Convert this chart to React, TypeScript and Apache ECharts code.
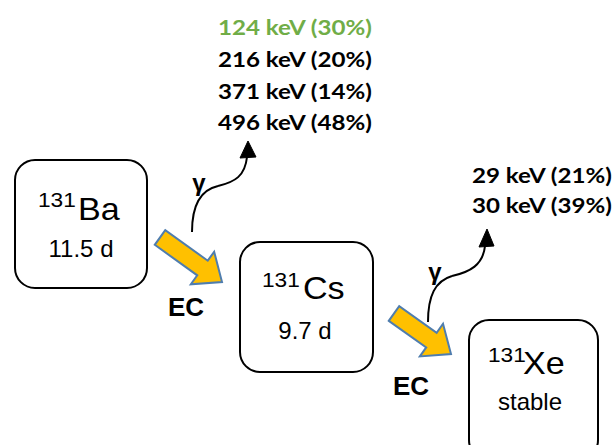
import React, { useEffect, useRef } from "react";
import * as echarts from "echarts";

// ---- Data ----
const massNumbers = ["131", "131", "131"];
const elementSymbols = ["Ba", "Cs", "Xe"];
const halfLives = ["11.5 d", "9.7 d", "stable"];
const decayModes = ["EC", "EC"];
const gammaSymbol = "γ";
const baGammaEnergiesKeV = [124, 216, 371, 496];
const baGammaIntensities = [30, 20, 14, 48];
const csGammaEnergiesKeV = [29, 30];
const csGammaIntensities = [21, 39];
const highlightedBaLine = 0;

// ---- Layout / style (not data) ----
const BOXES = [
  { x: 15, y: 160, w: 132, h: 128, supX: 38, supY: 200, symX: 78, symY: 210, hlX: 81, hlY: 248 },
  { x: 240, y: 242, w: 133, h: 130, supX: 262, supY: 280, symX: 303, symY: 289, hlX: 305, hlY: 330 },
  { x: 469, y: 320, w: 129, h: 140, supX: 488, supY: 355, symX: 523, symY: 364, hlX: 530, hlY: 401 },
];
const DECAY_ARROWS = [
  { tail: [160, 237.5], tip: [222, 282], ec: [186, 307] },
  { tail: [394, 313.5], tip: [451, 354], ec: [411, 386] },
];
const GAMMA_CURVES = [
  {
    segs: [
      [192, 232, 192, 205, 200, 190, 218, 186],
      [218, 186, 235, 182, 245, 176, 247, 157],
    ],
    head: [[248, 141], [240, 158], [256, 157]],
    label: [199, 182],
    textX: 218,
    textY: [27, 59, 91, 122],
  },
  {
    segs: [
      [428, 322, 428, 296, 435, 281, 452, 276],
      [452, 276, 470, 272, 483, 265, 485, 246],
    ],
    head: [[487, 229], [479, 247], [494, 246]],
    label: [435, 271],
    textX: 472,
    textY: [175, 205],
  },
];

const SANS = "'Liberation Sans', Arial, sans-serif";
const LABEL_FONT = "Lato, 'Liberation Sans', sans-serif";
const ARROW_FILL = "#FFC000";
const ARROW_STROKE = "#4F7DAE";
const GREEN = "#70AD47";

function arrowPolygon(tail: number[], tip: number[]) {
  const w = 9, W = 20, L = 24;
  const dx = tip[0] - tail[0], dy = tip[1] - tail[1];
  const len = Math.hypot(dx, dy);
  const ux = dx / len, uy = dy / len;
  const nx = -uy, ny = ux;
  const bx = tip[0] - ux * L, by = tip[1] - uy * L;
  return [
    [tail[0] + nx * w, tail[1] + ny * w],
    [bx + nx * w, by + ny * w],
    [bx + nx * W, by + ny * W],
    [tip[0], tip[1]],
    [bx - nx * W, by - ny * W],
    [bx - nx * w, by - ny * w],
    [tail[0] - nx * w, tail[1] - ny * w],
  ];
}

function txt(text: string, x: number, y: number, opts: any) {
  const align = opts.align || "left";
  return {
    type: "text",
    x,
    y,
    scaleX: opts.scaleX || 1,
    silent: true,
    style: {
      text,
      fill: opts.fill || "#000",
      fontSize: opts.fontSize,
      fontFamily: opts.fontFamily || SANS,
      fontWeight: opts.fontWeight || "normal",
      align,
      textAlign: align,
      verticalAlign: "middle",
      textVerticalAlign: "middle",
    },
  };
}

export default function App() {
  const ref = useRef<HTMLDivElement>(null);
  useEffect(() => {
    if (!ref.current) return;
    const chart = echarts.init(ref.current, null, { renderer: "svg" });
    const elements: any[] = [];

    // Nuclide boxes
    BOXES.forEach((b, i) => {
      elements.push({
        type: "rect",
        shape: { x: b.x, y: b.y, width: b.w, height: b.h, r: 20 },
        style: { fill: "#fff", stroke: "#000", lineWidth: 2 },
      });
      elements.push(txt(massNumbers[i], b.supX, b.supY, { fontSize: 21, scaleX: 1.08 }));
      elements.push(txt(elementSymbols[i], b.symX, b.symY, { fontSize: 31, scaleX: 1.1 }));
      elements.push(txt(halfLives[i], b.hlX, b.hlY, { fontSize: 24, align: "center" }));
    });

    // Decay arrows
    DECAY_ARROWS.forEach((a, i) => {
      elements.push({
        type: "polygon",
        shape: { points: arrowPolygon(a.tail, a.tip) },
        style: { fill: ARROW_FILL, stroke: ARROW_STROKE, lineWidth: 2, lineJoin: "miter" },
      });
      elements.push(txt(decayModes[i], a.ec[0], a.ec[1], { fontSize: 26, fontWeight: "bold", align: "center" }));
    });

    // Gamma emissions
    const gammaLists = [
      baGammaEnergiesKeV.map((e, k) => `${e} keV (${baGammaIntensities[k]}%)`),
      csGammaEnergiesKeV.map((e, k) => `${e} keV (${csGammaIntensities[k]}%)`),
    ];
    GAMMA_CURVES.forEach((g, i) => {
      g.segs.forEach((s) => {
        elements.push({
          type: "bezierCurve",
          shape: { x1: s[0], y1: s[1], cpx1: s[2], cpy1: s[3], cpx2: s[4], cpy2: s[5], x2: s[6], y2: s[7] },
          style: { stroke: "#000", lineWidth: 2, fill: null },
        });
      });
      elements.push({
        type: "polygon",
        shape: { points: g.head },
        style: { fill: "#000", stroke: "#000", lineWidth: 1 },
      });
      elements.push(txt(gammaSymbol, g.label[0], g.label[1], { fontSize: 24, fontWeight: "bold", align: "center" }));
      gammaLists[i].forEach((line, k) => {
        elements.push(
          txt(line, g.textX, g.textY[k], {
            fontSize: 21,
            fontWeight: "bold",
            fontFamily: LABEL_FONT,
            scaleX: 1.15,
            fill: i === 0 && k === highlightedBaLine ? GREEN : "#000",
          })
        );
      });
    });

    chart.setOption({
      animation: false,
      backgroundColor: "#fff",
      graphic: { elements },
    });
    return () => chart.dispose();
  }, []);

  return (
    <div
      ref={ref}
      style={{ position: "fixed", left: 0, top: 0, width: 615, height: 445, background: "#fff" }}
    />
  );
}
